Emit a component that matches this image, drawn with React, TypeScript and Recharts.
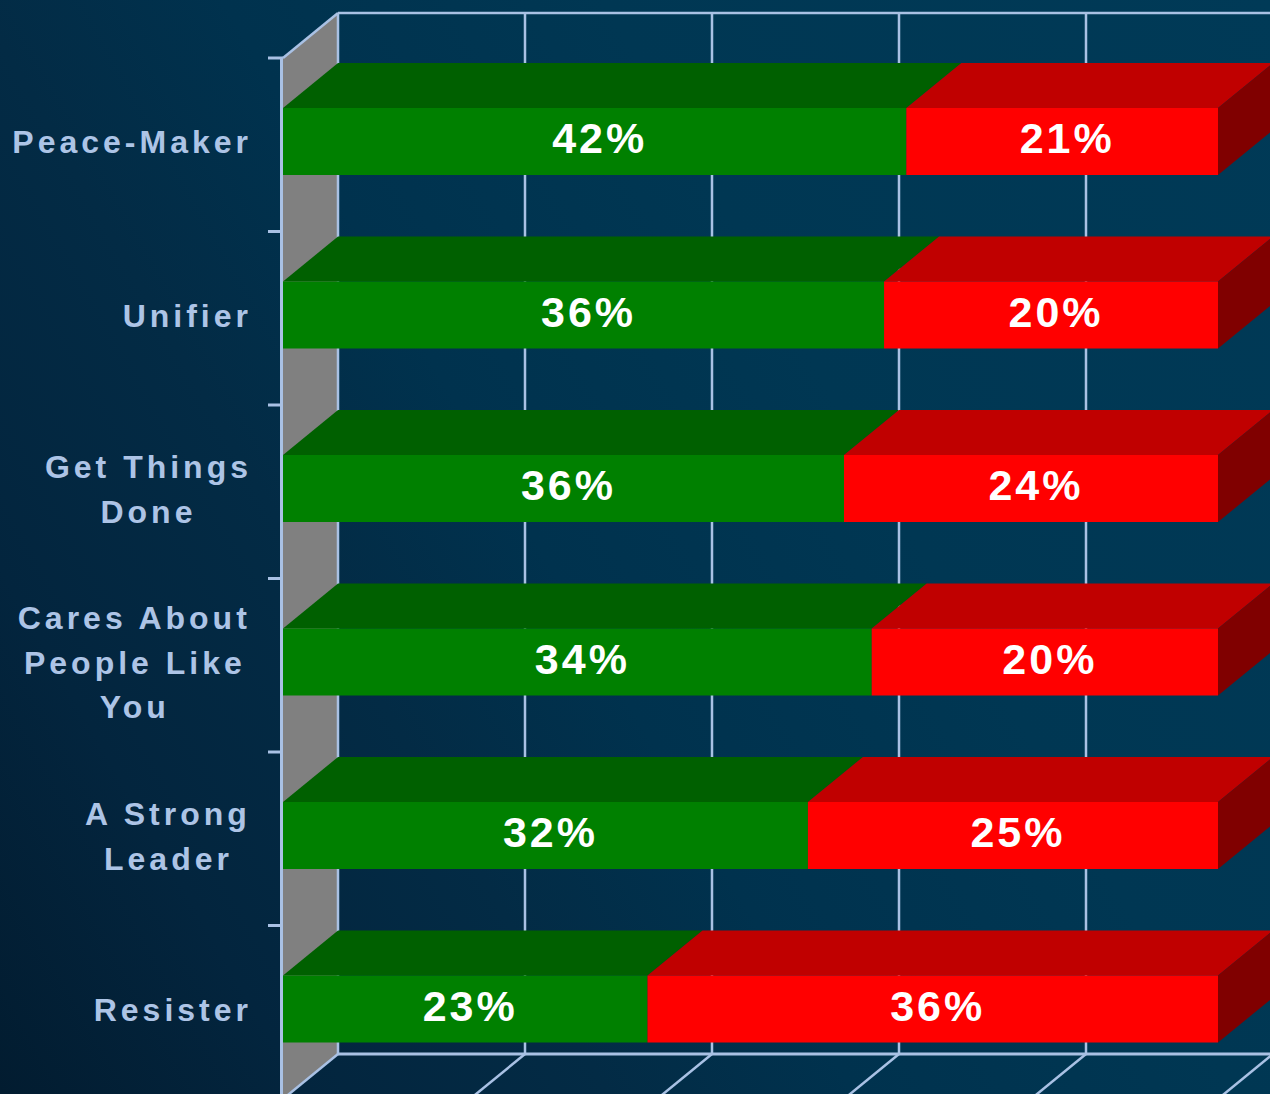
import React from 'react';
import { BarChart, Bar, XAxis, YAxis, CartesianGrid, LabelList } from 'recharts';

// ---------- data ----------
const categories = [
  'Peace-Maker',
  'Unifier',
  'Get Things Done',
  'Cares About People Like You',
  'A Strong Leader',
  'Resister',
];
const categoryLines = [
  ['Peace-Maker'],
  ['Unifier'],
  ['Get Things', 'Done'],
  ['Cares About', 'People Like', 'You'],
  ['A Strong', 'Leader'],
  ['Resister'],
];
const favorableValues = [42, 36, 36, 34, 32, 23];
const unfavorableValues = [21, 20, 24, 20, 25, 36];
const xTicks = [0, 0.2, 0.4, 0.6, 0.8, 1];

const chartData = categories.map((name, i) => ({
  name,
  favorable: favorableValues[i],
  unfavorable: unfavorableValues[i],
}));

// ---------- style ----------
const FONT = '"Liberation Sans", Arial, Helvetica, sans-serif';
const DX = 55;
const DY = 45;
const LIFT = 3;
const LINE = '#a9c1e4';
const TEXT = '#adc4e6';
const WALL = '#808080';
const GREEN = { front: '#008000', top: '#006000', side: '#004000' };
const RED = { front: '#ff0000', top: '#c00000', side: '#800000' };
const BG =
  'linear-gradient(60deg, #021c30 0%, #03253e 16%, #032b45 32%, #00324e 45%, #003753 65%, #003a57 100%)';

const CAT_SIZE = 32;
const CAT_LS = 4;
const CAT_RIGHT = 248;
const CAT_LINE_H = 44.5;

let measureCtx: CanvasRenderingContext2D | null = null;
function textWidth(s: string, size: number, ls: number) {
  if (!measureCtx) {
    const c = document.createElement('canvas');
    measureCtx = c.getContext('2d');
  }
  if (!measureCtx) return s.length * size * 0.55;
  measureCtx.font = `bold ${size}px "Liberation Sans", Arial, sans-serif`;
  return measureCtx.measureText(s).width + ls * (s.length - 1);
}

// ---------- 3D bar shape ----------
function makeBarShape(colors: { front: string; top: string; side: string }, drawSide: boolean) {
  return (props: any) => {
    const { x, y, width, height } = props;
    if (x == null || y == null || !width || !height) return <g />;
    const yy = y - LIFT;
    return (
      <g>
        <polygon
          points={`${x},${yy} ${x + DX},${yy - DY} ${x + width + DX},${yy - DY} ${x + width},${yy}`}
          fill={colors.top}
        />
        {drawSide && (
          <polygon
            points={`${x + width},${yy} ${x + width + DX},${yy - DY} ${x + width + DX},${yy + height - DY} ${x + width},${yy + height}`}
            fill={colors.side}
          />
        )}
        <rect x={x} y={yy} width={width} height={height} fill={colors.front} />
      </g>
    );
  };
}
const greenShape = makeBarShape(GREEN, false);
const redShape = makeBarShape(RED, true);

// ---------- value labels ----------
const renderValueLabel = (props: any) => {
  const vb = props.viewBox || {};
  const x = props.x ?? vb.x;
  const y = props.y ?? vb.y;
  const width = props.width ?? vb.width;
  const height = props.height ?? vb.height;
  if (x == null || y == null) return null;
  return (
    <text
      x={x + width / 2 + 5}
      y={y - LIFT + height / 2 + 11.5}
      textAnchor="middle"
      fill="#ffffff"
      fontSize={43}
      fontWeight="bold"
      fontFamily={FONT}
      letterSpacing={3}
    >
      {`${props.value}%`}
    </text>
  );
};

// ---------- category tick ----------
const renderCategoryTick = (props: any) => {
  const { y, payload } = props;
  const idx = categories.indexOf(payload?.value);
  const lines = idx >= 0 ? categoryLines[idx] : [String(payload?.value ?? '')];
  const widths = lines.map((l) => textWidth(l, CAT_SIZE, CAT_LS));
  const blockW = Math.max(...widths);
  const center = CAT_RIGHT - blockW / 2;
  const cy = y - LIFT;
  const first = cy - ((lines.length - 1) * CAT_LINE_H) / 2 + 11.5;
  return (
    <g>
      {lines.map((l, i) => (
        <text
          key={i}
          x={center - widths[i] / 2}
          y={first + i * CAT_LINE_H}
          textAnchor="start"
          fill={TEXT}
          fontSize={CAT_SIZE}
          fontWeight="bold"
          fontFamily={FONT}
          letterSpacing={CAT_LS}
        >
          {l}
        </text>
      ))}
    </g>
  );
};

// ---------- grid (3D walls) ----------
const renderHorizontal = (p: any) => {
  const { x1, y1, index } = p;
  return (
    <line
      key={`h-${index}`}
      x1={x1 - 15}
      y1={y1}
      x2={x1}
      y2={y1}
      stroke={LINE}
      strokeWidth={3}
    />
  );
};

const renderVertical = (p: any) => {
  const { x1, y1, y2, x, width, index } = p;
  const bx = x1 + DX;
  const isLeft = x != null ? Math.abs(x1 - x) < 0.5 : index === 0;
  const stroke = { stroke: LINE, strokeWidth: 2.5 };
  if (!isLeft) {
    return (
      <g key={`v-${index}`}>
        <line x1={bx} y1={y1 - DY} x2={bx} y2={y2 - DY} {...stroke} />
        <line x1={bx} y1={y2 - DY} x2={x1} y2={y2} {...stroke} />
      </g>
    );
  }
  const right = (x != null && width != null ? x + width : x1 + 935) + DX;
  return (
    <g key={`v-${index}`}>
      <polygon points={`${x1},${y1} ${bx},${y1 - DY} ${bx},${y2 - DY} ${x1},${y2}`} fill={WALL} />
      <line x1={bx} y1={y1 - DY} x2={right} y2={y1 - DY} {...stroke} />
      <line x1={bx} y1={y2 - DY} x2={right} y2={y2 - DY} stroke={LINE} strokeWidth={3} />
      <line x1={bx} y1={y1 - DY} x2={bx} y2={y2 - DY} {...stroke} />
      <line x1={x1} y1={y1} x2={bx} y2={y1 - DY} {...stroke} />
      <line x1={bx} y1={y2 - DY} x2={x1} y2={y2} {...stroke} />
      <line x1={x1 - 1.5} y1={y1} x2={x1 - 1.5} y2={y2} stroke={LINE} strokeWidth={3} />
    </g>
  );
};

const horizontalGen = (args: any) => {
  const off = args.offset;
  const n = categories.length;
  return Array.from({ length: n + 1 }, (_, k) => off.top + (k * off.height) / n);
};

export default function App() {
  return (
    <div
      style={{
        position: 'absolute',
        left: 0,
        top: 0,
        width: 1270,
        height: 1094,
        overflow: 'hidden',
        background: BG,
      }}
    >
      <BarChart
        width={1270}
        height={1099}
        data={chartData}
        layout="vertical"
        stackOffset="expand"
        margin={{ top: 58, right: 52, bottom: 0, left: 0 }}
        barSize={67}
      >
        <CartesianGrid
          horizontal={renderHorizontal}
          vertical={renderVertical}
          horizontalCoordinatesGenerator={horizontalGen}
          stroke={LINE}
        />
        <XAxis type="number" domain={[0, 1]} ticks={xTicks} hide />
        <YAxis
          type="category"
          dataKey="name"
          width={283}
          axisLine={false}
          tickLine={false}
          tick={renderCategoryTick}
          interval={0}
        />
        <Bar dataKey="favorable" stackId="a" fill={GREEN.front} shape={greenShape} isAnimationActive={false}>
          <LabelList dataKey="favorable" content={renderValueLabel} />
        </Bar>
        <Bar dataKey="unfavorable" stackId="a" fill={RED.front} shape={redShape} isAnimationActive={false}>
          <LabelList dataKey="unfavorable" content={renderValueLabel} />
        </Bar>
      </BarChart>
    </div>
  );
}
